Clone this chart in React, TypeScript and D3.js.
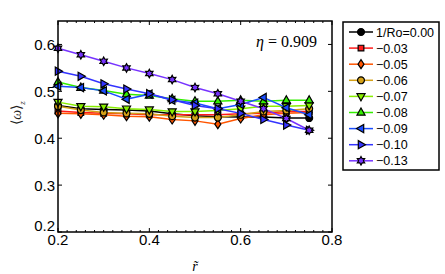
import React, { useEffect } from "react";
import * as d3 from "d3";

// radial positions
const rValues = [0.2, 0.25, 0.3, 0.35, 0.4, 0.45, 0.5, 0.55, 0.6, 0.65, 0.7, 0.75];

const labels = ["1/Ro=0.00", "\u22120.03", "\u22120.05", "\u22120.06", "\u22120.07", "\u22120.08", "\u22120.09", "\u22120.10", "\u22120.13"];
const colors = ["#000000", "#ff1a1a", "#ff5500", "#d4a017", "#88ee00", "#33ee00", "#1a4dff", "#3333ff", "#7733ff"];
const markers = ["circle", "square", "diamond", "circle", "down", "up", "left", "right", "star"];

const ro000 = [0.470, 0.463, 0.461, 0.460, 0.458, 0.452, 0.448, 0.446, 0.445, 0.445, 0.443, 0.443];
const ro003 = [0.458, 0.455, 0.453, 0.452, 0.450, 0.450, 0.450, 0.450, 0.452, 0.453, 0.457, 0.457];
const ro005 = [0.453, 0.452, 0.450, 0.447, 0.446, 0.440, 0.437, 0.430, 0.442, 0.450, 0.453, 0.455];
const ro006 = [0.468, 0.460, 0.455, 0.453, 0.452, 0.447, 0.444, 0.444, 0.450, 0.457, 0.459, 0.463];
const ro007 = [0.477, 0.468, 0.467, 0.463, 0.461, 0.457, 0.457, 0.459, 0.463, 0.468, 0.468, 0.470];
const ro008 = [0.520, 0.508, 0.502, 0.494, 0.491, 0.484, 0.479, 0.479, 0.481, 0.479, 0.481, 0.481];
const ro009 = [0.511, 0.508, 0.501, 0.483, 0.494, 0.481, 0.475, 0.463, 0.472, 0.487, 0.465, 0.450];
const ro010 = [0.543, 0.532, 0.516, 0.505, 0.495, 0.482, 0.470, 0.463, 0.453, 0.440, 0.428, 0.417];
const ro013 = [0.592, 0.578, 0.564, 0.550, 0.538, 0.525, 0.508, 0.495, 0.479, 0.463, 0.442, 0.417];

const seriesValues = [ro000, ro003, ro005, ro006, ro007, ro008, ro009, ro010, ro013];

const xTicks = [0.2, 0.4, 0.6, 0.8];
const yTicks = [0.2, 0.3, 0.4, 0.5, 0.6];

const margin = { left: 58, top: 21, right: 113, bottom: 42 };
const W = 445;
const H = 274;

function markerPath(kind: string, s: number): string {
  if (kind === "circle") return d3.symbol(d3.symbolCircle, s * s * 1.5)() as string;
  if (kind === "square") return d3.symbol(d3.symbolSquare, s * s * 1.3)() as string;
  if (kind === "diamond") {
    const a = s * 0.6, b = s * 0.9;
    return `M0,${-b}L${a},0L0,${b}L${-a},0Z`;
  }
  if (kind === "star") {
    const pts: [number, number][] = [];
    for (let i = 0; i < 12; i++) {
      const rr = i % 2 === 0 ? s * 0.85 : s * 0.48;
      const ang = (i * Math.PI) / 6 - Math.PI / 2;
      pts.push([rr * Math.cos(ang), rr * Math.sin(ang)]);
    }
    return d3.line()(pts) + "Z";
  }
  const t = s * 0.9;
  const tri: [number, number][] = [[0, -t], [t * 0.9, t * 0.6], [-t * 0.9, t * 0.6]];
  const rot = kind === "up" ? 0 : kind === "down" ? 180 : kind === "left" ? -90 : 90;
  const c = Math.cos((rot * Math.PI) / 180), sn = Math.sin((rot * Math.PI) / 180);
  return d3.line()(tri.map(([px, py]) => [px * c - py * sn, px * sn + py * c] as [number, number])) + "Z";
}

export default function App() {
  useEffect(() => {
    document.body.style.margin = "0";
  }, []);

  const x = d3.scaleLinear().domain([0.2, 0.8]).range([margin.left, W - margin.right]);
  const y = d3.scaleLinear().domain([0.2, 0.65]).range([H - margin.bottom, margin.top]);
  const line = d3
    .line<number>()
    .x((_, i) => x(rValues[i]))
    .y((d) => y(d));

  const minorX = d3.range(0.2, 0.8001, 0.02);
  const x0 = x.range()[0], x1 = x.range()[1];
  const y0 = y.range()[0], y1 = y.range()[1];

  const legX = 343, legY = 22, legRow = 16.1;

  return (
    <svg width={W} height={H} style={{ display: "block", background: "#fff" }} fontFamily="Liberation Sans, Arial, sans-serif">
      {/* data */}
      <g>
        {seriesValues.map((vals, si) => (
          <g key={si}>
            <path d={line(vals) as string} fill="none" stroke={colors[si]} strokeWidth={1.5} />
            {vals.map((v, i) => (
              <path
                key={i}
                d={markerPath(markers[si], 5)}
                transform={`translate(${x(rValues[i])},${y(v)})`}
                fill={colors[si]}
                stroke="#000"
                strokeWidth={1.2}
              />
            ))}
          </g>
        ))}
      </g>

      {/* ticks */}
      <g stroke="#000" strokeWidth={1}>
        {minorX.map((t, i) => {
          const major = xTicks.some((m) => Math.abs(m - t) < 1e-6);
          const len = major ? 4 : 2;
          return (
            <g key={i}>
              <line x1={x(t)} x2={x(t)} y1={y0} y2={y0 - len} />
              <line x1={x(t)} x2={x(t)} y1={y1} y2={y1 + len} />
            </g>
          );
        })}
        {yTicks.map((t) => (
          <g key={t}>
            <line x1={x0} x2={x0 + 4} y1={y(t)} y2={y(t)} />
            <line x1={x1} x2={x1 - 4} y1={y(t)} y2={y(t)} />
          </g>
        ))}
      </g>
      <rect x={x0} y={y1} width={x1 - x0} height={y0 - y1} fill="none" stroke="#000" strokeWidth={1.5} />

      {/* tick labels */}
      <g fontSize={15} fill="#000">
        {yTicks.map((t) => (
          <text key={t} x={x0 - 3} y={t === 0.2 ? y(t) - 6 : y(t)} dy="0.36em" textAnchor="end">
            {d3.format(".1f")(t)}
          </text>
        ))}
        {xTicks.map((t) => (
          <text key={t} x={x(t)} y={y0 + 2} dy="0.76em" textAnchor="middle">
            {d3.format(".1f")(t)}
          </text>
        ))}
      </g>

      {/* axis labels */}
      <text x={x(0.5)} y={271} textAnchor="middle" fontFamily="Liberation Serif, serif" fontStyle="italic" fontSize={14}>
        r̃
      </text>
      <text transform="translate(21,113) rotate(-90)" textAnchor="middle" fontFamily="Liberation Serif, serif" fontSize={14} fill="#222">
        ⟨<tspan fontStyle="italic">ω</tspan>⟩<tspan fontSize={9} fontStyle="italic" dy={4}>z</tspan>
      </text>

      <text x={x1 - 15} y={47} textAnchor="end" fontFamily="Liberation Serif, serif" fontSize={16}>
        <tspan fontStyle="italic">η</tspan> = 0.909
      </text>

      {/* legend */}
      <rect x={legX} y={legY} width={96} height={148} fill="#fff" stroke="#000" strokeWidth={1.5} />
      {labels.map((lab, i) => {
        const cy = legY + 10 + i * legRow;
        return (
          <g key={i}>
            <line x1={legX + 6} x2={legX + 30} y1={cy} y2={cy} stroke={colors[i]} strokeWidth={1.5} />
            <path d={markerPath(markers[i], 5)} transform={`translate(${legX + 18},${cy})`} fill={colors[i]} stroke="#000" strokeWidth={1.2} />
            <text x={legX + 33} y={cy} dy="0.36em" fontSize={12.5}>
              {lab}
            </text>
          </g>
        );
      })}
    </svg>
  );
}
